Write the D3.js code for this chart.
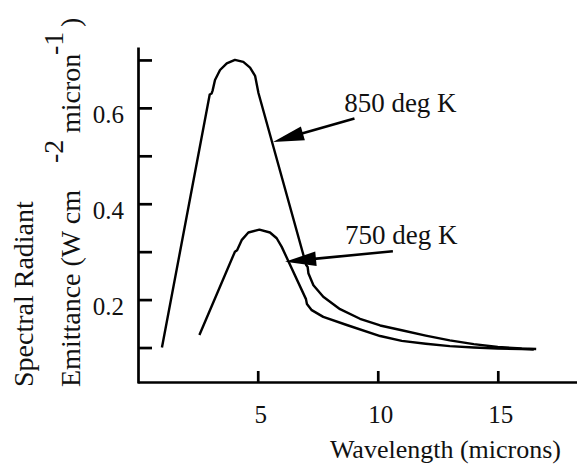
<!DOCTYPE html>
<html>
<head>
<meta charset="utf-8">
<script src="https://cdn.jsdelivr.net/npm/d3@7"></script>
<style>
  html, body { margin: 0; padding: 0; background: #fff; }
  svg { display: block; }
  svg text { font-family: "Liberation Serif", "Times New Roman", Tinos, "DejaVu Serif", serif !important; fill: #111; }
</style>
</head>
<body>
<svg id="chart" width="577" height="467"></svg>
<script>
// ---- data ----
const wl850  = [1.01, 3.0, 3.08, 3.12, 3.22, 3.43, 3.71, 4.05, 4.40, 4.68, 4.89, 5.03, 7.02, 7.08, 7.11, 7.32, 7.73, 8.43, 9.26, 10.1, 11.0, 12.0, 13.0, 14.0, 15.0, 16.0, 16.6];
const val850 = [0.100, 0.628, 0.630, 0.636, 0.658, 0.679, 0.693, 0.700, 0.696, 0.684, 0.667, 0.631, 0.272, 0.268, 0.255, 0.230, 0.206, 0.180, 0.160, 0.146, 0.136, 0.125, 0.115, 0.107, 0.101, 0.098, 0.097];
const wl750  = [2.57, 4.05, 4.14, 4.33, 4.61, 5.07, 5.51, 5.79, 6.0, 7.01, 7.05, 7.25, 7.73, 8.71, 10.1, 11.0, 12.0, 13.0, 14.0, 15.0, 16.0, 16.5];
const val750 = [0.126, 0.300, 0.303, 0.324, 0.340, 0.346, 0.340, 0.328, 0.310, 0.201, 0.191, 0.178, 0.164, 0.147, 0.124, 0.114, 0.108, 0.103, 0.100, 0.098, 0.097, 0.096];

const xTicks = [5, 10, 15];
const yTicks = [0.1, 0.2, 0.3, 0.4, 0.5, 0.6, 0.7];
const yTickLabels = {0.2: "0.2", 0.4: "0.4", 0.6: "0.6"};

const seriesLabels = ["850 deg K", "750 deg K"];
// arrow tip / tail and label anchor, in data units
const arrowTip   = [[5.64, 0.529], [6.14, 0.279]];
const arrowTail  = [[9.03, 0.578], [10.63, 0.301]];
const labelPos   = [[8.6, 0.591], [8.64, 0.315]];

const xLabel = "Wavelength (microns)";
const yLabel1 = "Spectral Radiant";

const FONT = '"Liberation Serif", "Times New Roman", Tinos, "DejaVu Serif", serif';

// ---- scales ----
const svg = d3.select("#chart");
const x = d3.scaleLinear().domain([0, 18.3]).range([137.7, 577]);
const y = d3.scaleLinear().domain([0.026, 0.727]).range([383, 47]);

// ---- axes ----
const yAxis = d3.axisLeft(y).tickValues(yTicks).tickSize(-14).tickSizeOuter(0)
  .tickPadding(14).tickFormat(d => yTickLabels[Math.round(d * 10) / 10] || "");
const gy = svg.append("g").attr("transform", "translate(138,0)").call(yAxis);
gy.attr("font-family", FONT);
gy.selectAll("path,line").attr("stroke", "#000").attr("stroke-width", 2.7);
gy.selectAll("text").attr("font-size", 25).attr("dy", "0.58em")
  .attr("font-family", FONT).attr("fill", "#111");

const xAxis = d3.axisBottom(x).tickValues(xTicks).tickSize(-11).tickSizeOuter(0)
  .tickPadding(23.5).tickFormat(d3.format("d"));
const gx = svg.append("g").attr("transform", "translate(0,382)").call(xAxis);
gx.attr("font-family", FONT);
gx.selectAll("path,line").attr("stroke", "#000").attr("stroke-width", 2.7);
gx.selectAll("text").attr("font-size", 25).attr("dx", 2.5)
  .attr("font-family", FONT).attr("fill", "#111");

// ---- curves ----
const line = d3.line().x(d => x(d[0])).y(d => y(d[1])).curve(d3.curveLinear);
const s850 = wl850.map((w, i) => [w, val850[i]]);
const s750 = wl750.map((w, i) => [w, val750[i]]);
[s850, s750].forEach(s => {
  svg.append("path").attr("d", line(s)).attr("fill", "none")
    .attr("stroke", "#000").attr("stroke-width", 2.4)
    .attr("stroke-linejoin", "round").attr("stroke-linecap", "butt");
});

// ---- annotations ----
seriesLabels.forEach((lab, i) => {
  const tx = x(arrowTip[i][0]), ty = y(arrowTip[i][1]);
  const sx = x(arrowTail[i][0]), sy = y(arrowTail[i][1]);
  const dx = tx - sx, dy = ty - sy, L = Math.hypot(dx, dy);
  const ux = dx / L, uy = dy / L, px = -uy, py = ux;
  const hl = 31, hw = 7.2;
  const bx = tx - ux * hl, by = ty - uy * hl;
  svg.append("line").attr("x1", sx).attr("y1", sy).attr("x2", bx + ux * 2).attr("y2", by + uy * 2)
    .attr("stroke", "#000").attr("stroke-width", 2.6);
  svg.append("polygon")
    .attr("points", [[tx, ty], [bx + px * hw, by + py * hw], [bx - px * hw, by - py * hw]].map(p => p.join(",")).join(" "))
    .attr("fill", "#000");
  svg.append("text").attr("x", x(labelPos[i][0])).attr("y", y(labelPos[i][1]))
    .attr("font-family", FONT).attr("font-size", 27).text(lab);
});

// ---- axis titles ----
svg.append("text").attr("x", 561).attr("y", 458).attr("text-anchor", "end")
  .attr("font-family", FONT).attr("font-size", 26).text(xLabel);

svg.append("text").attr("transform", "translate(33,387) rotate(-90)")
  .attr("font-family", FONT).attr("font-size", 28).text(yLabel1);

const t2 = svg.append("text").attr("transform", "translate(80,387) rotate(-90)")
  .attr("font-family", FONT).attr("font-size", 28);
t2.append("tspan").attr("x", 0).attr("y", 0).text("Emittance (W cm");
t2.append("tspan").attr("x", 224).attr("y", -17).text("-2");
t2.append("tspan").attr("x", 254).attr("y", 0).text("micron");
t2.append("tspan").attr("x", 332).attr("y", -17).text("-1");
t2.append("tspan").attr("x", 360).attr("y", 0).text(")");
</script>
</body>
</html>
